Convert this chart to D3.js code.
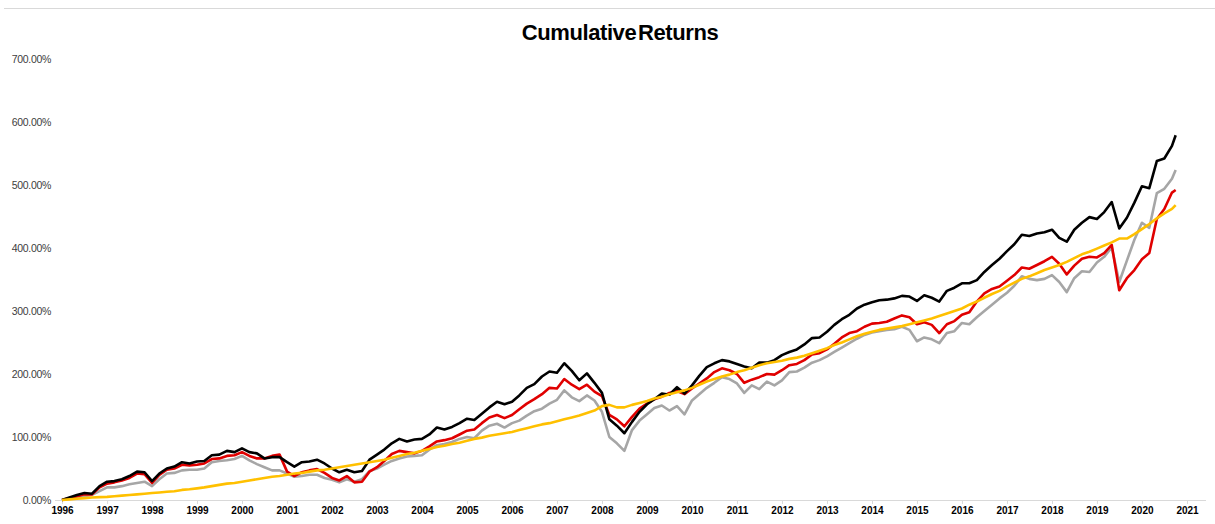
<!DOCTYPE html>
<html>
<head>
<meta charset="utf-8">
<title>Cumulative Returns</title>
<script src="https://cdn.jsdelivr.net/npm/d3@7"></script>
<style>
  body { margin: 0; background: #fff; }
</style>
</head>
<body>
<div id="sandbox"></div>
<script>
// Chart data (values in %), one point every two months, last point Oct 2020
var years = [1996, 1997, 1998, 1999, 2000, 2001, 2002, 2003, 2004, 2005, 2006, 2007, 2008,
             2009, 2010, 2011, 2012, 2013, 2014, 2015, 2016, 2017, 2018, 2019, 2020, 2021];
var months = ['01', '03', '05', '07', '09', '11'];
var yTicks = [0, 100, 200, 300, 400, 500, 600, 700];

var blackSeries = [
  0, 4, 8, 11, 10, 22,
  29, 30, 33, 38, 45, 44,
  30, 42, 50, 53, 60, 58,
  61, 62, 71, 72, 78, 76,
  82, 76, 74, 66, 68, 68,
  60, 53, 60, 61, 64, 58,
  50, 44, 48, 44, 46, 64,
  72, 80, 90, 97, 93, 96,
  97, 104, 115, 112, 116, 122,
  129, 127, 137, 147, 156, 152,
  156, 166, 178, 184, 196, 204,
  202, 217, 205, 190, 201, 186,
  170, 128, 118, 106, 124, 140,
  152, 160, 169, 167, 179, 169,
  182, 197, 211, 217, 222, 220,
  216, 212, 209, 218, 218, 222,
  230, 235, 239, 247, 257, 258,
  267, 278, 287, 294, 304, 310,
  314, 317, 318, 320, 324, 323,
  316, 325, 321, 315, 332, 337,
  344, 344, 349, 362, 373, 383,
  395, 406, 421, 419, 423, 425,
  429, 416, 410, 429, 440, 449,
  446, 457, 473, 431, 448, 472,
  498, 495, 538, 542, 562, 579
];

var redSeries = [
  0, 3, 6, 9, 9, 20,
  26, 28, 31, 35, 42, 41,
  27, 40, 48, 50, 56, 55,
  56, 58, 65, 66, 70, 71,
  76, 70, 66, 66, 70, 72,
  45, 38, 44, 47, 49, 43,
  35, 31, 38, 28, 29, 45,
  52, 62, 73, 78, 76, 74,
  78, 85, 93, 95, 98, 104,
  110, 112, 122, 131, 135, 130,
  135, 144, 153, 160, 168, 178,
  177, 192, 183, 176, 183, 172,
  165, 135, 128, 117, 132, 145,
  153, 160, 164, 170, 173, 168,
  177, 185, 193, 203, 209, 206,
  200, 186, 191, 195, 200, 199,
  206, 214, 216, 222, 231, 233,
  239, 248, 258, 265, 268, 275,
  280, 281, 283, 288, 293, 290,
  279, 282, 278, 265, 279, 284,
  294, 298, 315, 328, 335, 339,
  348, 357, 369, 367, 373, 379,
  386, 375, 358, 372, 383, 386,
  385, 392, 405, 333, 352, 365,
  382, 392, 446, 462, 488, 492
];

var greySeries = [
  0, 2, 4, 6, 8, 14,
  20, 20, 22, 25, 27, 29,
  22, 33, 42, 43, 47, 48,
  48, 50, 60, 62, 63, 65,
  70, 63, 57, 52, 47, 47,
  42, 37, 38, 40, 40, 35,
  32, 28, 33, 29, 33, 46,
  50, 56, 62, 66, 69, 70,
  71, 80, 87, 89, 92, 97,
  100, 98, 110, 118, 121, 115,
  122, 126, 134, 141, 145, 153,
  159, 174, 163, 157, 166, 158,
  140, 100, 90, 78, 111, 126,
  136, 146, 150, 142, 149, 136,
  158, 168, 178, 186, 195, 192,
  185, 170, 182, 176, 188, 182,
  190, 203, 204, 210, 218, 222,
  228, 235, 242, 249, 256, 262,
  266, 268, 270, 271, 275, 270,
  252, 258, 255, 249, 265, 268,
  281, 279, 290, 300, 310, 320,
  329, 340, 355, 351, 349, 351,
  357, 346, 330, 352, 363, 362,
  377, 386, 401, 346, 380, 413,
  440, 432, 487, 494, 510, 524
];

var yellowSeries = [
  0, 1, 2, 3, 4, 4.5,
  5, 6, 7, 8, 9, 10,
  11, 12, 13, 14, 16, 17,
  18.5, 20, 22, 24, 26, 27,
  29, 31, 33, 35, 37, 38,
  40, 42, 43, 45, 47, 48,
  50, 52, 54, 56, 58, 60,
  62, 64, 67, 70, 73, 75,
  78, 81, 84, 86, 89, 91,
  94, 97, 99, 102, 104, 106,
  108, 111, 114, 117, 120, 122,
  125, 128, 131, 134, 138, 142,
  149, 151, 147, 147, 151, 154,
  157, 161, 164, 168, 171, 174,
  178, 183, 188, 192, 196, 199,
  203, 206, 210, 214, 217, 219,
  221, 224, 226, 229, 233, 237,
  241, 246, 250, 255, 260, 264,
  267, 270, 272, 274, 276, 279,
  282, 285, 288, 292, 296, 300,
  304, 310, 315, 321, 327, 332,
  339, 345, 351, 355, 360, 365,
  369, 373, 378, 384, 390, 394,
  399, 404, 409, 415, 415, 422,
  430, 438, 447, 455, 462, 468
];

// Dates: every second month, the last one is October 2020
var dates = [];
years.slice(0, -1).forEach(function(y) {
  months.forEach(function(m) { dates.push(y + '-' + m); });
});
dates[dates.length - 1] = '2020-10';
var parseDate = d3.timeParse('%Y-%m');
dates = dates.map(parseDate);

var seriesList = [
  { values: greySeries, color: '#a6a6a6' },
  { values: redSeries, color: '#e00000' },
  { values: blackSeries, color: '#000000' },
  { values: yellowSeries, color: '#ffc000' }
];

var width = 1215, height = 524;

var svg = d3.select('#sandbox').append('svg')
    .attr('width', width)
    .attr('height', height);

// Top border line
svg.append('line')
   .attr('x1', 4).attr('x2', width)
   .attr('y1', 8.5).attr('y2', 8.5)
   .style('stroke', '#d9d9d9')
   .style('stroke-width', 1);

var x = d3.scaleTime()
    .domain([new Date(1996, 0, 1), new Date(2021, 0, 1)])
    .range([62, 1187]);

var y = d3.scaleLinear()
    .domain([0, 700])
    .range([500, 59]);

// Title
svg.append('text')
   .attr('x', 620)
   .attr('y', 39.5)
   .attr('text-anchor', 'middle')
   .style('font-family', '"Liberation Sans", Arial, sans-serif')
   .style('font-weight', 'bold')
   .style('font-size', '22px')
   .style('letter-spacing', '-0.4px')
   .style('word-spacing', '-4px')
   .style('fill', '#000')
   .text('Cumulative Returns');

// Y axis labels (no axis line, no gridlines)
var yAxis = d3.axisLeft(y)
    .tickValues(yTicks)
    .tickSize(0)
    .tickPadding(0)
    .tickFormat(function(d) { return d3.format('.2f')(d) + '%'; });

var yG = svg.append('g')
    .attr('transform', 'translate(51,0)')
    .call(yAxis);
yG.select('.domain').remove();
yG.selectAll('text')
  .style('font-family', '"Liberation Sans", Arial, sans-serif')
  .style('font-size', '10.5px')
  .style('letter-spacing', '-0.3px')
  .style('fill', '#404040');

// X axis baseline
svg.append('line')
   .attr('x1', 55).attr('x2', 1206)
   .attr('y1', 500.5).attr('y2', 500.5)
   .style('stroke', '#d9d9d9')
   .style('stroke-width', 1);

var xAxis = d3.axisBottom(x)
    .tickValues(years.map(function(yr) { return new Date(yr, 0, 1); }))
    .tickSize(4)
    .tickSizeOuter(0)
    .tickPadding(3)
    .tickFormat(d3.timeFormat('%Y'));

var xG = svg.append('g')
    .attr('transform', 'translate(0,500)')
    .call(xAxis);
xG.select('.domain').remove();
xG.selectAll('line').style('stroke', '#d9d9d9');
xG.selectAll('text')
  .style('font-family', '"Liberation Sans", Arial, sans-serif')
  .style('font-weight', 'bold')
  .style('font-size', '10px')
  .style('fill', '#000');

// Lines
var line = d3.line()
    .x(function(d, i) { return x(dates[i]); })
    .y(function(d) { return y(d); });

svg.selectAll('path.series')
   .data(seriesList)
   .enter().append('path')
   .attr('class', 'series')
   .attr('d', function(s) { return line(s.values); })
   .style('fill', 'none')
   .style('stroke', function(s) { return s.color; })
   .style('stroke-width', 2.6)
   .style('stroke-linejoin', 'round');
</script>
</body>
</html>
